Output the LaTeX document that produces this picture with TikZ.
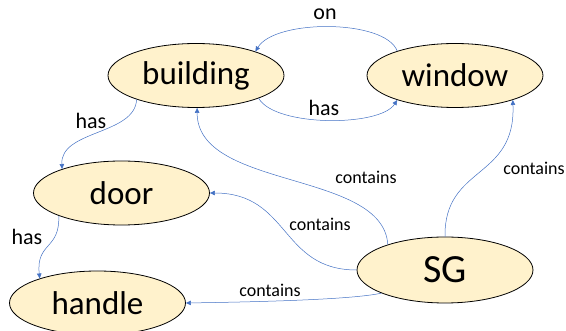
\documentclass[tikz,border=0pt]{standalone}
\usepackage{fontspec}
\setmainfont{Carlito}
\usetikzlibrary{shapes.geometric,arrows.meta}
\definecolor{nodefill}{HTML}{FFF2CC}
\definecolor{linkblue}{HTML}{4472C4}
\tikzset{
  concept/.style={ellipse, draw=black, line width=0.8pt, fill=nodefill,
    minimum width=176pt, minimum height=64pt, inner sep=0pt, font=\fontsize{33}{36}\selectfont},
  link/.style={draw=linkblue, line width=0.5pt, -{Triangle[length=5pt,width=4.5pt]}},
  biglabel/.style={font=\fontsize{22}{24}\selectfont, inner sep=0pt},
  smalllabel/.style={font=\fontsize{18}{20}\selectfont, inner sep=0pt}
}
\begin{document}
\begin{tikzpicture}[x=1pt,y=-1pt]
\useasboundingbox (0,0) rectangle (566,331);
% concept nodes
\node[concept] (building) at (196,75.5) {building};
\node[concept] (window) at (455,75.5) {window};
\node[concept] (door) at (121.5,193) {door};
\node[concept] (handle) at (97.5,303) {handle};
\node[concept, minimum height=66pt, font=\fontsize{40}{44}\selectfont] (sg) at (445,270) {SG};
% relations
\draw[link] (window.157) .. controls (385,19) and (275,19) .. (building.22);
\draw[link] (building.-20) .. controls (275,127) and (380,127) .. (window.203);
\draw[link] (building.202) .. controls (135,135) and (60,130) .. (door.158);
\draw[link] (door.200) .. controls (60,250) and (36,242) .. (handle.157);
\draw[link] (sg.156) .. controls (383,170) and (197,190) .. (building.-88);
\draw[link] (sg.180) .. controls (280,270) and (290,193) .. (door.0);
\draw[link] (sg.200) .. controls (350,300) and (250,302) .. (handle.0);
\draw[link] (sg.90) .. controls (444,165) and (516,180) .. (window.-23);
% labels
\node[biglabel] (lon) at (325,14) {on};
\node[biglabel] (lhas1) at (324,108) {has};
\node[biglabel] (lhas2) at (91,121) {has};
\node[biglabel] (lhas3) at (27,237) {has};
\node[smalllabel] (lc1) at (366,177) {contains};
\node[smalllabel] (lc2) at (534,168) {contains};
\node[smalllabel] (lc3) at (320,224) {contains};
\node[smalllabel] (lc4) at (270,290) {contains};
\end{tikzpicture}
\end{document}
